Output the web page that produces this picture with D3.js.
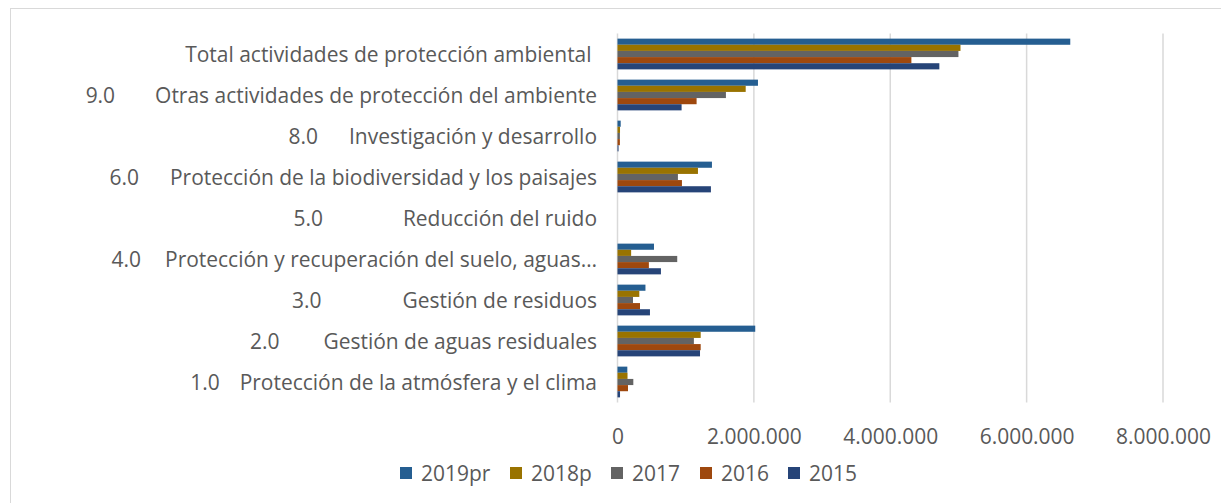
<!DOCTYPE html>
<html>
<head>
<meta charset="utf-8">
<script src="https://cdn.jsdelivr.net/npm/d3@7"></script>
<style>
  body { margin: 0; background: #fff; }
  text { font-family: 'Open Sans', sans-serif; fill: #595959; white-space: pre; }
</style>
</head>
<body>
<div class="chart"></div>
<script>
'use strict';

// Data (top to bottom as in the chart)
const codes = ['', '9.0', '8.0', '6.0', '5.0', '4.0', '3.0', '2.0', '1.0'];
const names = [
  'Total actividades de protección ambiental ',
  'Otras actividades de protección del ambiente',
  'Investigación y desarrollo',
  'Protección de la biodiversidad y los paisajes',
  'Reducción del ruido',
  'Protección y recuperación del suelo, aguas…',
  'Gestión de residuos',
  'Gestión de aguas residuales',
  'Protección de la atmósfera y el clima'
];
const years = ['2019pr', '2018p', '2017', '2016', '2015'];
const v2019pr = [6640000, 2060000, 47000, 1385000, 0, 535000, 410000, 2020000, 144000];
const v2018p  = [5030000, 1880000, 37000, 1180000, 0, 200000, 320000, 1220000, 147000];
const v2017   = [5000000, 1590000, 35000,  886000, 0, 876000, 227000, 1120000, 232000];
const v2016   = [4310000, 1160000, 35000,  945000, 0, 460000, 330000, 1220000, 154000];
const v2015   = [4720000,  940000, 15000, 1370000, 0, 637000, 476000, 1210000,  37000];
const xTicks = [0, 2000000, 4000000, 6000000, 8000000];

const series = [v2019pr, v2018p, v2017, v2016, v2015];
const colors = ['#255E91', '#997300', '#636363', '#9E480E', '#264478'];

// gap between code and name (tab stops in the original)
const codeGaps = [0, 40, 31, 31, 80, 24, 81, 44, 20];

const w = 1221;
const h = 503;

const svg = d3.select('.chart')
  .append('svg')
  .attr('width', w)
  .attr('height', h);

// fit font size so the longest label matches the original width (442px)
const probe = svg.append('text').style('font-size', '100px').text(names[1]);
const fs = 100 * 442 / probe.node().getComputedTextLength();
probe.remove();
const fontSize = `${fs.toFixed(2)}px`;

// Outer frame
svg.append('rect')
  .attr('x', 10.5).attr('y', 8.5)
  .attr('width', 1230).attr('height', 520)
  .attr('fill', 'none')
  .attr('stroke', '#d9d9d9');

const xScale = d3.scaleLinear()
  .domain([0, 8000000])
  .range([617.5, 1163]);

const yScale = d3.scaleBand()
  .domain(d3.range(names.length))
  .range([33.5, 402.5])
  .paddingInner(0.25)
  .paddingOuter(0.125);

const ySub = d3.scaleBand()
  .domain(years)
  .range([0, yScale.bandwidth()]);

// Gridlines
svg.append('g')
  .selectAll('line')
  .data(xTicks)
  .enter()
  .append('line')
  .attr('x1', d => xScale(d))
  .attr('x2', d => xScale(d))
  .attr('y1', 33.5)
  .attr('y2', 402.5)
  .attr('stroke', '#d9d9d9')
  .attr('stroke-width', 1.5);

// Bars
const groups = svg.append('g')
  .selectAll('g')
  .data(names)
  .enter()
  .append('g')
  .attr('transform', (d, i) => `translate(0, ${yScale(i)})`);

groups.selectAll('rect')
  .data((d, i) => years.map((y, j) => ({ year: y, value: series[j][i], color: colors[j] })))
  .enter()
  .append('rect')
  .attr('x', xScale(0))
  .attr('y', d => ySub(d.year))
  .attr('width', d => xScale(d.value) - xScale(0))
  .attr('height', ySub.bandwidth())
  .attr('fill', d => d.color);

// X axis labels
const xAxis = d3.axisBottom(xScale)
  .tickValues(xTicks)
  .tickSize(0)
  .tickPadding(0)
  .tickFormat(d => d3.format(',')(d).replace(/,/g, '.'));

const gx = svg.append('g')
  .attr('transform', 'translate(0, 429)')
  .call(xAxis);
gx.select('.domain').remove();
gx.selectAll('text')
  .attr('dy', '0.71em')
  .style('font-size', fontSize)
  .style('font-family', "'Open Sans', sans-serif")
  .attr('fill', '#595959');

// Category labels
const labelEnd = 597;
names.forEach((name, i) => {
  const cy = yScale(i) + yScale.bandwidth() / 2 + 1;
  const t = svg.append('text')
    .attr('x', labelEnd)
    .attr('y', cy)
    .attr('dy', '0.35em')
    .attr('text-anchor', 'end')
    .style('font-size', fontSize)
    .text(name);
  if (codes[i]) {
    const len = t.node().getComputedTextLength();
    svg.append('text')
      .attr('x', labelEnd - len - codeGaps[i])
      .attr('y', cy)
      .attr('dy', '0.35em')
      .attr('text-anchor', 'end')
      .style('font-size', fontSize)
      .text(codes[i]);
  }
});

// Legend
const legendX = [400, 510, 611, 700, 788];
const legend = svg.selectAll('.legend')
  .data(years)
  .enter()
  .append('g')
  .attr('class', 'legend')
  .attr('transform', (d, i) => `translate(${legendX[i]}, 473)`);

legend.append('rect')
  .attr('x', 0)
  .attr('y', -6)
  .attr('width', 12)
  .attr('height', 12)
  .attr('fill', (d, i) => colors[i]);

legend.append('text')
  .attr('x', 21)
  .attr('y', 1)
  .attr('dy', '0.35em')
  .style('font-size', fontSize)
  .text(d => d);
</script>
</body>
</html>
